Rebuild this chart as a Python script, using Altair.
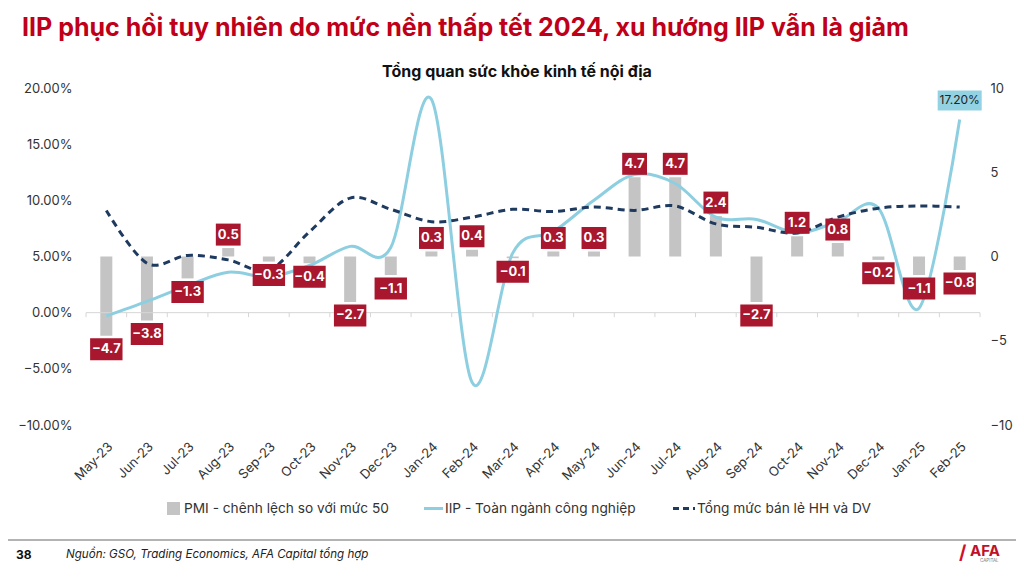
import altair as alt
import pandas as pd

MONTHS = ["May-23", "Jun-23", "Jul-23", "Aug-23", "Sep-23", "Oct-23", "Nov-23", "Dec-23",
          "Jan-24", "Feb-24", "Mar-24", "Apr-24", "May-24", "Jun-24", "Jul-24", "Aug-24",
          "Sep-24", "Oct-24", "Nov-24", "Dec-24", "Jan-25", "Feb-25"]
# PMI minus 50 (right axis)
PMI_GAP = [-4.7, -3.8, -1.3, 0.5, -0.3, -0.4, -2.7, -1.1, 0.3, 0.4, -0.1,
           0.3, 0.3, 4.7, 4.7, 2.4, -2.7, 1.2, 0.8, -0.2, -1.1, -0.8]
# IIP y/y growth, % (left axis)
IIP = [-0.3, 1.0, 2.4, 3.6, 3.2, 4.2, 5.9, 5.8, 19.0, -6.2, 5.3,
       7.2, 10.0, 12.3, 11.5, 8.5, 8.3, 7.1, 8.1, 9.3, 0.4, 17.2]
# retail sales of goods and services y/y, % (left axis)
RETAIL = [9.1, 4.4, 5.1, 4.7, 3.8, 7.2, 10.2, 9.2, 8.1, 8.5, 9.2,
          9.0, 9.4, 9.1, 9.5, 7.9, 7.6, 7.1, 8.5, 9.3, 9.5, 9.4]
LEFT_TICKS = [-10, -5, 0, 5, 10, 15, 20]
RIGHT_TICKS = [-10, -5, 0, 5, 10]

TITLE = "IIP phục hồi tuy nhiên do mức nền thấp tết 2024, xu hướng IIP vẫn là giảm"
SUBTITLE = "Tổng quan sức khỏe kinh tế nội địa"
LEGEND = ["PMI - chênh lệch so với mức 50", "IIP - Toàn ngành công nghiệp",
          "Tổng mức bán lẻ HH và DV"]
SOURCE = "Nguồn: GSO, Trading Economics, AFA Capital tổng hợp"
PAGE_NO = "38"

FONT = "Inter"
W, H = 894, 337
STEP = W / len(MONTHS)
RED = "#a8172d"
IIP_BLUE = "#8dcfe0"
NAVY = "#1f3a5f"
BAR_GREY = "#c4c4c4"

df = pd.DataFrame({"month": MONTHS, "pmi": PMI_GAP, "iip": IIP, "retail": RETAIL})
base = alt.Chart(df)

x_enc = alt.X(
    "month:N", sort=MONTHS,
    scale=alt.Scale(paddingInner=0, paddingOuter=0),
    axis=alt.Axis(title=None, labelAngle=-45, domain=False, ticks=False, labelPadding=15,
                  labelFontSize=13, labelColor="#333", labelFont=FONT),
)

right_scale = alt.Scale(domain=[-10, 10], nice=False)
left_scale = alt.Scale(domain=[-10, 20], nice=False)

# --- PMI bars (right axis)
pmi_bars = base.mark_bar(size=12, color=BAR_GREY).encode(
    x=x_enc,
    y=alt.Y("pmi:Q", scale=right_scale,
            axis=alt.Axis(orient="right", values=RIGHT_TICKS, title=None, grid=False,
                          domain=False, ticks=False, labelPadding=10, labelFontSize=13,
                          labelColor="#333", labelFont=FONT)),
)

# --- zero line with category ticks (left axis)
zero_df = pd.DataFrame({"z": [0]})
zero_line = alt.Chart(zero_df).mark_rule(color="#d6d6d6", strokeWidth=1).encode(
    y=alt.Y("z:Q", scale=left_scale), x=alt.value(0), x2=alt.value(W),
)
cat_ticks = base.mark_rule(color="#d6d6d6", xOffset=-STEP / 2).encode(
    x=x_enc, y=alt.datum(0, scale=left_scale), y2=alt.datum(-0.4),
)
end_tick = alt.Chart(zero_df).mark_rule(color="#d6d6d6").encode(
    x=alt.value(W), y=alt.datum(0), y2=alt.datum(-0.4),
)

iip_line = base.mark_line(interpolate="cardinal", color=IIP_BLUE, strokeWidth=3).encode(
    x=x_enc,
    y=alt.Y("iip:Q", scale=left_scale,
            axis=alt.Axis(orient="left", values=LEFT_TICKS, title=None, grid=False,
                          domain=False, ticks=False, labelPadding=14, labelFontSize=13,
                          labelColor="#333", labelFont=FONT,
                          labelExpr="format(datum.value / 100, '.2%')")),
)
retail_line = base.mark_line(interpolate="cardinal", color=NAVY, strokeWidth=3,
                             strokeDash=[7, 5]).encode(
    x=x_enc, y=alt.Y("retail:Q", scale=left_scale),
)

last = base.transform_filter(alt.datum.month == MONTHS[-1]).transform_calculate(
    lbl="format(datum.iip / 100, '.2%')"
)
iip_box = last.mark_bar(color="#93d2e2", size=44, yOffset=-29, y2Offset=-9).encode(
    x=x_enc, y=alt.Y("iip:Q", scale=left_scale), y2="iip:Q",
)
iip_text = last.mark_text(color="#222", fontSize=12, font=FONT, yOffset=-19,
                          baseline="middle").encode(
    x=x_enc, y=alt.Y("iip:Q", scale=left_scale), text="lbl:N",
)
left_group = alt.layer(zero_line, cat_ticks, end_tick, iip_line, retail_line, iip_box, iip_text)

# --- red PMI value boxes, drawn over the lines (same right-axis domain)
labelled = base.transform_calculate(
    ly="datum.pmi < 0 ? datum.pmi - 0.8 : datum.pmi + 0.8",
    lbl="format(datum.pmi, '.1f')",
    bw="length(format(datum.pmi, '.1f')) * 7.6 + 2",
)
pmi_boxes = labelled.mark_bar(color=RED, yOffset=-11, y2Offset=11).encode(
    x=x_enc,
    y=alt.Y("ly:Q", scale=right_scale, axis=None),
    y2="ly:Q",
    size=alt.Size("bw:Q", scale=None, legend=None),
)
pmi_text = labelled.mark_text(color="white", fontWeight="bold", fontSize=13, font=FONT,
                              baseline="middle").encode(
    x=x_enc, y=alt.Y("ly:Q", scale=right_scale, axis=None), text="lbl:N",
)
label_group = alt.layer(pmi_boxes, pmi_text)


# --- titles, legend and footer
def label(text, x, y, size=13, weight="normal", color="#333", align="left", style="normal"):
    return alt.Chart(pd.DataFrame({"t": [text]})).mark_text(
        fontSize=size, fontWeight=weight, color=color, align=align, baseline="middle",
        font=FONT, fontStyle=style,
    ).encode(text="t:N", x=alt.value(x), y=alt.value(y))


one = pd.DataFrame({"k": [0]})
legend_box = alt.Chart(one).mark_rect(color=BAR_GREY).encode(
    x=alt.value(81), x2=alt.value(94), y=alt.value(414), y2=alt.value(427))
legend_iip = alt.Chart(one).mark_rule(color=IIP_BLUE, strokeWidth=3).encode(
    x=alt.value(338), x2=alt.value(357), y=alt.value(420.5))
legend_retail = alt.Chart(one).mark_rule(color=NAVY, strokeWidth=3, strokeDash=[6, 4]).encode(
    x=alt.value(587), x2=alt.value(609), y=alt.value(420.5))
footer_line = alt.Chart(one).mark_rule(color="#9a9a9a", strokeWidth=1.5).encode(
    x=alt.value(-78), x2=alt.value(930), y=alt.value(452))

deco = [
    label(TITLE, -64, -60, size=25, weight="bold", color="#c00018"),
    label(SUBTITLE, 431, -16, size=16, weight="bold", color="#111", align="center"),
    legend_box, label(LEGEND[0], 98, 420.5, size=13.7),
    legend_iip, label(LEGEND[1], 359, 420.5, size=13.7),
    legend_retail, label(LEGEND[2], 611, 420.5, size=13.7),
    footer_line,
    label(PAGE_NO, -70, 467, size=12, weight="bold", color="#111"),
    label(SOURCE, -20, 467, size=11.6, color="#222", style="italic"),
    label("/", 873, 465, size=19, weight="bold", color="#d0102a"),
    label("AFA", 884, 463, size=15, weight="bold", color="#c0102a"),
    label("CAPITAL", 894, 473, size=4.5, color="#777"),
]

chart = alt.layer(pmi_bars, left_group, label_group, *deco).resolve_scale(
    y="independent"
).properties(
    width=W, height=H,
    padding={"left": 78, "top": 80, "right": 36, "bottom": 141},
    autosize=alt.AutoSizeParams(type="none"),
).configure_view(stroke=None)

chart.save("out.html", embed_options={"renderer": "svg", "actions": False})
